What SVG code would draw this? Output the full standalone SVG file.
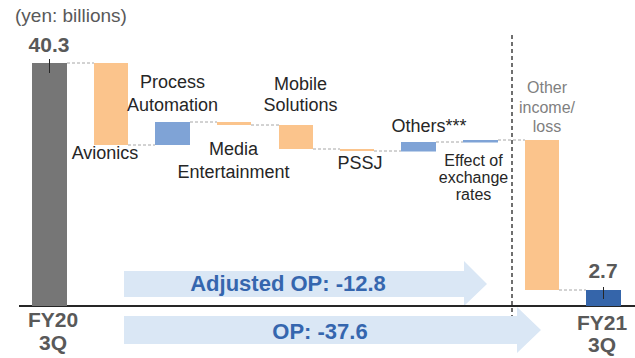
<svg xmlns="http://www.w3.org/2000/svg" width="635" height="358" viewBox="0 0 635 358">
  <style>
    .lbl { font-family: "Liberation Sans", Arial, sans-serif; font-size: 18px; fill: #262626; text-anchor: middle; }
    .sm { font-size: 16px; }
    .oth { font-family: "Liberation Sans", Arial, sans-serif; font-size: 16px; fill: #7f7f7f; text-anchor: middle; }
    .val { font-family: "Liberation Sans", Arial, sans-serif; font-size: 21px; font-weight: bold; fill: #595959; text-anchor: middle; }
    .arr { font-family: "Liberation Sans", Arial, sans-serif; font-size: 22px; font-weight: bold; fill: #3566ae; text-anchor: middle; }
    .unit { font-family: "Liberation Sans", Arial, sans-serif; font-size: 19px; fill: #595959; }
    .dec { fill: #fbc48c; }
    .inc { fill: #7fa3d6; }
    .link { stroke: #a6a6a6; stroke-width: 1; stroke-dasharray: 3 2; fill: none; }
    .tick { stroke: #262626; stroke-width: 1; }
    .band { fill: #dae7f5; }
  </style>

  <text class="unit" x="15" y="22">(yen: billions)</text>

  <!-- summary arrows behind the chart -->
  <g id="arrow-adjusted">
    <polygon class="band" points="124,271 464,271 464,261 487,284 464,306 464,297 124,297"/>
    <text class="arr" x="288" y="291">Adjusted OP: -12.8</text>
  </g>

  <!-- divider between operating items and other income -->
  <line x1="512" y1="35" x2="512" y2="318" stroke="#404040" stroke-width="1.5" stroke-dasharray="4 3"/>

  <!-- axis -->
  <line x1="19" y1="306" x2="635" y2="306" stroke="#262626" stroke-width="2"/>

  <g id="arrow-op">
    <polygon class="band" points="124,316 517,316 517,307 541,330 517,353 517,344 124,344"/>
    <text class="arr" x="320" y="339">OP: -37.6</text>
  </g>

  <!-- connectors between bars -->
  <g id="connectors">
    <line class="link" x1="67" y1="63" x2="94" y2="63"/>
    <line class="link" x1="128" y1="145" x2="155" y2="145"/>
    <line class="link" x1="190" y1="122" x2="217" y2="122"/>
    <line class="link" x1="251" y1="125" x2="279" y2="125"/>
    <line class="link" x1="313" y1="149" x2="340" y2="149"/>
    <line class="link" x1="374" y1="151" x2="401" y2="151"/>
    <line class="link" x1="436" y1="142" x2="463" y2="142"/>
    <line class="link" x1="498" y1="140" x2="525" y2="140"/>
    <line class="link" x1="559" y1="290" x2="586" y2="290"/>
  </g>

  <g id="fy20">
    <rect x="32" y="63" width="35" height="243" fill="#767676"/>
    <line class="tick" x1="49.5" y1="59" x2="49.5" y2="73"/>
    <text class="val" x="49" y="52">40.3</text>
    <text class="val" x="53" y="327">FY20</text>
    <text class="val" x="53" y="350">3Q</text>
  </g>

  <g id="avionics">
    <rect class="dec" x="94" y="63" width="34" height="82"/>
    <text class="lbl" x="105" y="159">Avionics</text>
  </g>

  <g id="process-automation">
    <rect class="inc" x="155" y="122" width="35" height="23"/>
    <text class="lbl" x="172.5" y="88">Process</text>
    <text class="lbl" x="172.5" y="110.5">Automation</text>
  </g>

  <g id="media-entertainment">
    <rect class="dec" x="217" y="122" width="34" height="3"/>
    <text class="lbl" x="233.5" y="155">Media</text>
    <text class="lbl" x="233.5" y="177.5">Entertainment</text>
  </g>

  <g id="mobile-solutions">
    <rect class="dec" x="279" y="125" width="34" height="24"/>
    <text class="lbl" x="300.5" y="90">Mobile</text>
    <text class="lbl" x="300.5" y="111">Solutions</text>
  </g>

  <g id="pssj">
    <rect class="dec" x="340" y="149" width="34" height="2"/>
    <text class="lbl" x="360" y="169">PSSJ</text>
  </g>

  <g id="others">
    <rect class="inc" x="401" y="142" width="35" height="9.5"/>
    <text class="lbl" x="429" y="131.5">Others***</text>
  </g>

  <g id="exchange-rates">
    <rect class="inc" x="463" y="140" width="35" height="2.5"/>
    <text class="lbl sm" x="473.5" y="165.5">Effect of</text>
    <text class="lbl sm" x="473.5" y="182.5">exchange</text>
    <text class="lbl sm" x="473.5" y="199.5">rates</text>
  </g>

  <g id="other-income">
    <rect class="dec" x="525" y="140" width="34" height="150"/>
    <text class="oth" x="547" y="93">Other</text>
    <text class="oth" x="547" y="113">income/</text>
    <text class="oth" x="547" y="132">loss</text>
  </g>

  <g id="fy21">
    <rect x="586" y="290" width="35" height="16" fill="#3565aa"/>
    <line class="tick" x1="603.5" y1="287" x2="603.5" y2="299"/>
    <text class="val" x="603" y="278">2.7</text>
    <text class="val" x="602" y="330">FY21</text>
    <text class="val" x="602" y="352">3Q</text>
  </g>
</svg>
